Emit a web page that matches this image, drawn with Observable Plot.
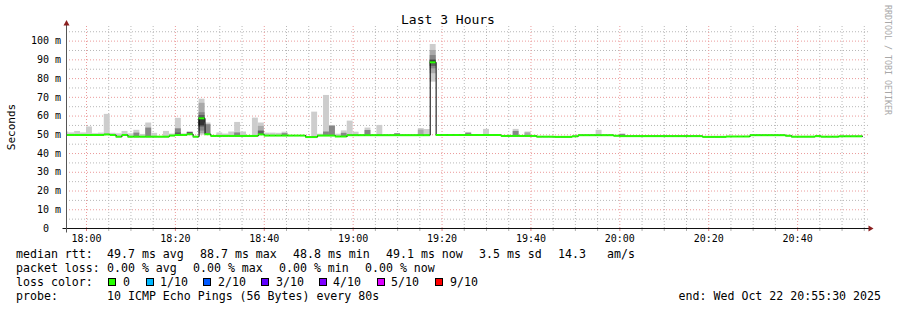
<!DOCTYPE html>
<html><head><meta charset="utf-8">
<script src="https://cdn.jsdelivr.net/npm/d3@7"></script>
<script src="https://cdn.jsdelivr.net/npm/@observablehq/plot@0.6"></script>
<style>
html,body{margin:0;padding:0;background:#fff;}
#wrap{position:relative;width:897px;height:310px;overflow:hidden;background:#fff;}
#wrap svg{position:absolute;left:0;top:0;}
</style></head><body><div id="wrap"></div>
<script>
// ---------- texts ----------
const titleText = "Last 3 Hours";
const yAxisLabel = "Seconds";
const watermark = "RRDTOOL / TOBI OETIKER";
// ---------- time range ----------
const rangeStart = "2025-10-22T17:55:30";
const rangeEnd = "2025-10-22T20:55:30";
const stepZero = "2025-10-22T17:56:00";   // start of step 0 (80 s steps)
const stepSeconds = 80;
const firstMedianStep = -1;
// ---------- median rtt (ms) per 80 s step, steps -1 .. 133 ----------
const medianMs = [
  49.9,
  49.9,49.9,49.9,49.9,49.9,49.9,
  50.2,49.9,49.0,49.9,
  49.0,49.0,49.0,49.0,49.0,49.0,49.0,
  49.6,49.9,49.9,50.3,49.0,58.8,50.3,
  49.4,49.4,49.4,49.4,49.4,49.4,49.4,49.4,
  50.2,
  49.6,49.6,49.6,49.6,49.6,49.6,49.6,
  48.8,48.8,
  49.6,49.6,49.6,
  49.1,49.1,
  49.8,49.8,49.8,49.8,49.8,49.8,49.8,49.8,49.8,49.8,49.8,49.8,49.8,49.8,
  88.7,
  49.9,49.9,49.9,49.9,49.9,49.9,49.9,49.9,49.9,49.9,49.9,
  49.4,49.4,49.4,49.4,49.4,49.4,
  49.0,49.0,49.0,
  48.9,48.9,48.9,
  49.2,
  49.8,49.8,49.8,49.8,49.8,49.8,
  49.5,
  49.3,49.3,49.3,49.3,49.3,49.3,49.3,49.3,49.3,49.3,49.3,49.3,49.3,49.3,
  48.9,48.9,48.9,48.9,
  49.1,49.1,49.1,49.1,
  49.8,49.8,49.8,49.8,49.8,49.8,
  49.5,
  49.0,49.0,49.0,49.0,
  49.3,
  49.0,49.0,49.0,
  49.2,49.2,49.2,49.2
];
// ---------- smoke layers (ping spread) ----------
const smokeStep = [-1,0,1,2,3,4,5,6,7,8,9,10,11,11,12,13,13,14,16,17,18,18,18,19,20,20,
  22,22,22,22,22,23,23,25,26,27,28,28,29,31,32,32,32,33,34,35,36,36,
  41,42,43,43,44,44,45,46,46,47,48,50,50,52,55,59,59,60,
  61,61,61,61,61,67,67,70,75,75,77,77,89,93];
const smokeLo = [49.9,49.9,49.9,49.9,49.9,49.9,49.9,50.2,49.9,49.0,49.9,49.0,49.0,49.0,49.0,49.0,49.0,49.0,49.0,49.6,49.9,49.9,49.9,49.9,50.3,50.3,
  49.8,50.6,52.0,54.1,54.8,50.3,50.3,49.4,49.4,49.4,49.4,49.4,49.4,49.4,50.2,50.2,50.2,49.6,49.6,49.6,49.6,49.6,
  48.8,49.6,49.6,49.6,49.6,49.6,49.1,49.1,49.1,49.8,49.8,49.8,49.8,49.8,49.8,49.8,49.8,49.8,
  78.1,82.6,85.2,86.5,88.0,49.9,49.9,49.9,49.4,49.4,49.4,49.4,49.8,49.3];
const smokeHi = [51.5,51.0,51.8,51.0,54.2,50.6,50.9,60.9,50.8,50.5,51.8,50.5,52.4,50.9,50.2,56.3,53.6,50.8,51.8,50.4,58.8,53.2,51.0,50.5,51.5,51.3,
  69.0,66.8,61.8,60.3,59.0,56.3,55.4,51.0,50.4,51.5,56.6,51.0,51.5,58.9,56.3,54.5,52.0,50.9,50.9,50.8,51.4,50.6,
  62.1,50.3,71.0,51.5,55.0,54.6,50.3,52.1,50.8,57.3,51.4,53.6,52.3,55.0,50.6,53.3,52.5,52.8,
  98.2,95.0,92.3,90.0,89.5,51.3,50.8,52.9,52.9,51.8,51.5,51.0,52.4,50.3];
const smokeTone = [0,0,0,0,0,0,0,0,0,0,0,0,0,2,0,0,2,0,0,0,0,2,3,0,0,3,
  0,1,2,3,4,0,2,0,0,0,0,2,0,0,0,1,3,0,0,0,0,2,
  0,0,0,2,0,2,0,0,2,0,0,0,2,0,2,0,1,0,
  0,1,2,3,4,0,2,0,0,2,0,1,0,2];
const smokeColors = ["#cdcdcd","#a9a9a9","#868686","#5e5e5e","#333333"];
// ---------- axes ----------
const yTop = 107.8;
const yMajorTicks = [0,10,20,30,40,50,60,70,80,90,100];
const yTickLabels = ["0\u00a0\u00a0","10 m","20 m","30 m","40 m","50 m","60 m","70 m","80 m","90 m","100 m"];
const yMinorTicks = [5,15,25,35,45,55,65,75,85,95,105];
const xMajorTickTimes = ["18:00","18:20","18:40","19:00","19:20","19:40","20:00","20:20","20:40"];
// ---------- legend ----------
const legendRows = [
  [[16,"median rtt:"],[107,"49.7 ms avg"],[200,"88.7 ms max"],[293,"48.8 ms min"],[386,"49.1 ms now"],[479,"3.5 ms sd"],[558,"14.3"],[607,"am/s"]],
  [[16,"packet loss:"],[107,"0.00 % avg"],[193,"0.00 % max"],[279,"0.00 % min"],[365,"0.00 % now"]],
  [[16,"loss color:"]],
  [[16,"probe:"],[107,"10 ICMP Echo Pings (56 Bytes) every 80s"]]
];
const lossLabels = ["0","1/10","2/10","3/10","4/10","5/10","9/10"];
const lossColors = ["#26ff00","#00b8ff","#0059ff","#5e00ff","#7e00ff","#dd00ff","#ff0000"];
const lossSwatchX = [108,146,203,261,319,377,435];
const lossLabelX = [123,160,218,276,333,391,450];
const endText = "end: Wed Oct 22 20:55:30 2025";

// ---------- build ----------
const mono = "DejaVu Sans Mono";
const t0 = new Date(stepZero).getTime();
const stepDate = j => new Date(t0 + j * stepSeconds * 1000);
const start = new Date(rangeStart), end = new Date(rangeEnd);

const steps = medianMs.map((m, i) => {
  const j = firstMedianStep + i;
  return {t1: stepDate(j), t2: stepDate(j + 1), m};
});
const linePts = steps.map(d => ({t: d.t1, m: d.m}));
linePts.push({t: steps[steps.length - 1].t2, m: steps[steps.length - 1].m});

const smoke = smokeStep.map((j, i) => ({t1: stepDate(j), t2: stepDate(j + 1), lo: smokeLo[i], hi: smokeHi[i], c: smokeColors[smokeTone[i]]}));

const day = "2025-10-22T";
const majorTimes = xMajorTickTimes.map(s => new Date(day + s + ":00"));
const minorTimes = d3.timeMinute.every(5).range(new Date(day + "17:56:00"), end);
const minorOnly = minorTimes.filter(t => !majorTimes.some(m => +m === +t));

const pxY = 202 / yTop;       // px per ms
const pxX = 10800 / 800;      // s per px
const gridGrey = "#b8b8b8", gridRed = "#eb9a9a";
const xRight = new Date(end.getTime() + 2 * pxX * 1000);
const dash = "1,2";

const plot = Plot.plot({
  width: 897, height: 310,
  marginLeft: 66, marginRight: 31, marginTop: 26, marginBottom: 82,
  x: {type: "time", domain: [start, end], axis: null},
  y: {domain: [0, yTop], axis: null},
  style: {fontFamily: mono, fontSize: "10px", background: "transparent", overflow: "visible"},
  marks: [
    Plot.ruleY(yMinorTicks, {y: d => d, x1: start, x2: xRight, stroke: gridGrey, strokeDasharray: dash}),
    Plot.ruleX(minorOnly, {x: d => d, y1: 0, y2: yTop, stroke: gridGrey, strokeDasharray: dash}),
    Plot.ruleY(yMajorTicks.filter(v => v > 0), {y: d => d, x1: start, x2: xRight, stroke: gridRed, strokeDasharray: dash}),
    Plot.ruleX(majorTimes, {x: d => d, y1: 0, y2: yTop, stroke: gridRed, strokeDasharray: dash}),
    Plot.rect(smoke, {x1: "t1", x2: "t2", y1: "lo", y2: "hi", fill: "c", clip: true}),
    Plot.line(linePts, {x: "t", y: "m", curve: "step-after", stroke: "#000", strokeWidth: 1, clip: true}),
    Plot.ruleY(steps, {x1: "t1", x2: "t2", y: "m", stroke: "#26ff00", strokeWidth: 2, clip: true}),
    // tick marks below the time axis
    Plot.ruleX(minorOnly, {x: d => d, y1: 0, y2: -3 / pxY, stroke: "#b0b0b0"}),
    Plot.ruleX(majorTimes, {x: d => d, y1: 0, y2: -3 / pxY, stroke: "#e08080"}),
    // tick labels
    Plot.text(yMajorTicks, {x: start, y: d => d, text: (d, i) => yTickLabels[i], textAnchor: "end", dx: -5.5, lineAnchor: "middle", fill: "black", fontFamily: mono, fontSize: 10}),
    Plot.text(majorTimes, {x: d => d, y: 0, text: (d, i) => xMajorTickTimes[i], dy: 10, lineAnchor: "middle", fill: "black", fontFamily: mono, fontSize: 10})
  ]
});
const wrap = document.getElementById("wrap");
wrap.appendChild(plot);

const xs = plot.scale("x"), ys = plot.scale("y");
const ax = Math.round(xs.apply(start)) + 0.5, ay = Math.round(ys.apply(0)) + 0.5;
const axTop = ys.apply(yTop), axRight = xs.apply(end);

const ov = d3.create("svg").attr("width", 897).attr("height", 310)
  .style("font-family", mono).style("overflow", "visible");
// axis lines
ov.append("line").attr("x1", ax - 4).attr("x2", axRight + 3).attr("y1", ay).attr("y2", ay).attr("stroke", "#111");
ov.append("line").attr("x1", ax).attr("x2", ax).attr("y1", ay + 4).attr("y2", axTop - 1).attr("stroke", "#555");
// arrows
ov.append("path").attr("d", `M${ax},${axTop - 6} L${ax - 3},${axTop - 0.5} L${ax + 3},${axTop - 0.5} Z`).attr("fill", "#8a1f1f");
ov.append("path").attr("d", `M${axRight + 7.5},${ay} L${axRight + 2.5},${ay - 3} L${axRight + 2.5},${ay + 3} Z`).attr("fill", "#8a1f1f");
// title
ov.append("text").attr("x", 448).attr("y", 24).attr("text-anchor", "middle").attr("font-size", 13).text(titleText);
// y label
ov.append("text").attr("transform", "translate(15,127) rotate(-90)").attr("text-anchor", "middle").attr("font-size", 11).text(yAxisLabel);
// watermark
ov.append("text").attr("transform", "translate(885,5) rotate(90)").attr("font-size", 8.3).attr("fill", "#a8a8a8").text(watermark);
// legend
const baselines = [258, 272, 286, 300];
legendRows.forEach((row, r) => row.forEach(([x, s]) => {
  ov.append("text").attr("x", x).attr("y", baselines[r]).attr("font-size", 11.6).attr("fill", "#000").text(s);
}));
lossLabels.forEach((s, i) => {
  ov.append("rect").attr("x", lossSwatchX[i] + 0.5).attr("y", 278.5).attr("width", 7).attr("height", 7)
    .attr("fill", lossColors[i]).attr("stroke", "#000").attr("stroke-width", 1);
  ov.append("text").attr("x", lossLabelX[i]).attr("y", baselines[2]).attr("font-size", 11.6).text(s);
});
ov.append("text").attr("x", 881).attr("y", baselines[3]).attr("text-anchor", "end").attr("font-size", 11.6).text(endText);
wrap.appendChild(ov.node());
</script></body></html>
